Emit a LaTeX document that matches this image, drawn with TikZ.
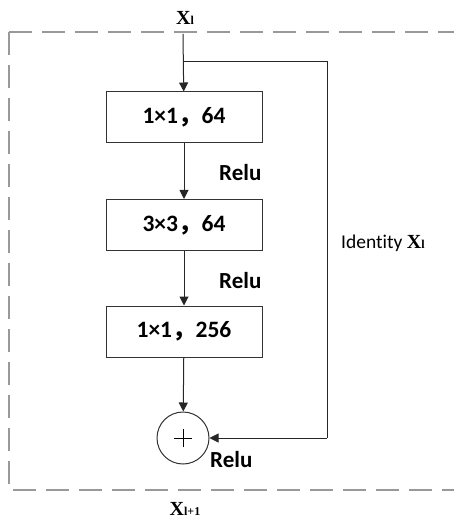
\documentclass[tikz,border=0pt]{standalone}
\usepackage{fontspec}
\setmainfont{Carlito}[Ligatures=NoCommon]
\newfontfamily\serifbf{Liberation Serif}
\newfontfamily\cjk{Noto Sans CJK SC}
\usetikzlibrary{arrows.meta}

\newcommand{\xvar}[1]{{\serifbf\bfseries\fontsize{20}{22}\selectfont X\fontsize{12}{13}\selectfont #1}}

\tikzset{
  layer/.style={draw=black!80,line width=1pt,minimum width=156pt,minimum height=51pt,inner sep=0,
    font=\bfseries\fontsize{23.5}{26}\selectfont},
  flow/.style={line width=1pt,draw=black!85,-{Triangle[length=9pt,width=9pt]}},
  wire/.style={line width=1pt,draw=black!85},
  relu/.style={anchor=base west,inner sep=0,font=\bfseries\fontsize{23}{26}\selectfont},
  frame/.style={draw=black!40,line width=1.4pt,dash pattern=on 23pt off 10pt}
}

\begin{document}
\begin{tikzpicture}[x=1pt,y=-1pt]
\useasboundingbox (0,0) rectangle (453,518);

% outer dashed block
\draw[frame] (9,32) -- (9,490) -- (460,490);
\draw[frame] (9,32) -- (460,32);

\node[anchor=base,inner sep=0] (xin) at (185,25) {\xvar{l}};
\node[anchor=base,inner sep=0] (xout) at (185,515) {\xvar{l+1}};

\coordinate (top) at (183,34);
\coordinate (split) at (183,62);
\coordinate (cornerA) at (327,62);
\coordinate (cornerB) at (327,438);

\node[layer] (conv1) at (184,117.5) {1×1{\cjk ，}64};
\node[layer] (conv2) at (184,225) {3×3{\cjk ，}64};
\node[layer] (conv3) at (184,331.5) {1×1{\cjk ，}256};
\node[circle,draw=black!80,line width=1pt,minimum size=52pt,inner sep=0] (sum) at (183,438) {};
\draw[line width=0.9pt] ([xshift=-9pt]sum.center) -- ([xshift=9pt]sum.center);
\draw[line width=0.9pt] ([yshift=-9pt]sum.center) -- ([yshift=9pt]sum.center);

\node[relu] (relu1) at (219,181) {Relu};
\node[relu] (relu2) at (219,288) {Relu};
\node[relu] (relu3) at (210,467) {Relu};
\node[anchor=base west,inner sep=0,font=\fontsize{19.5}{22}\selectfont] (ident) at (341,248) {Identity \xvar{l}};

\draw[flow] (top) -- (conv1);
\draw[flow] (conv1) -- (conv2);
\draw[flow] (conv2) -- (conv3);
\draw[flow] (conv3) -- (sum);
\draw[wire] (split) -- (cornerA) -- (cornerB);
\draw[flow] (cornerB) -- (sum);
\end{tikzpicture}
\end{document}
